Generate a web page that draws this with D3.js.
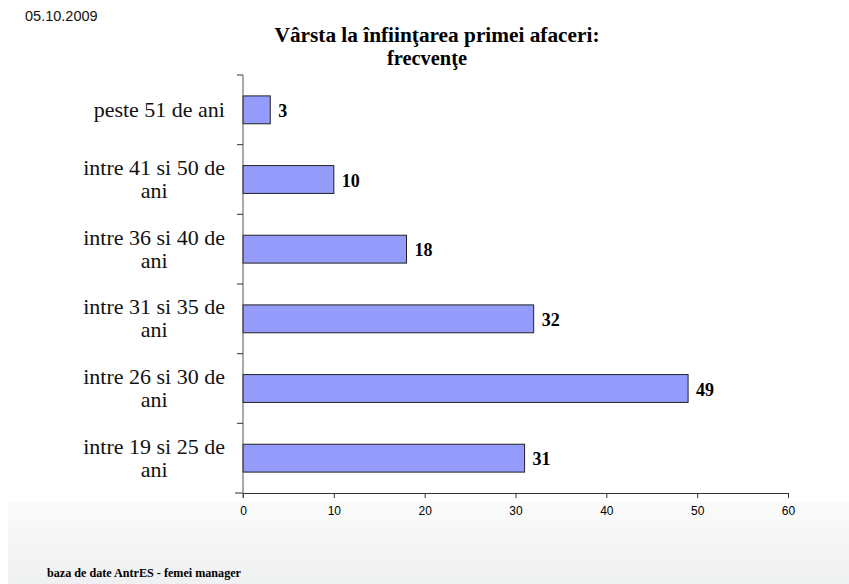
<!DOCTYPE html>
<html>
<head>
<meta charset="utf-8">
<script src="https://cdn.jsdelivr.net/npm/d3@7"></script>
<style>
	body { margin: 0; background: #fff; }
	svg { display: block; }
</style>
</head>
<body>
<svg id="chart"></svg>
<script>
// data, top to bottom as drawn
const categories = [
	['peste 51 de ani'],
	['intre 41 si 50 de', 'ani'],
	['intre 36 si 40 de', 'ani'],
	['intre 31 si 35 de', 'ani'],
	['intre 26 si 30 de', 'ani'],
	['intre 19 si 25 de', 'ani']
];
const values = [3, 10, 18, 32, 49, 31];
const xTicks = [0, 10, 20, 30, 40, 50, 60];
const titleLines = ['Vârsta la înfiinţarea primei afaceri:', 'frecvenţe'];

const W = 849, H = 584;
const m = { left: 243, right: 788, top: 75, bottom: 493 };
const serif = '"Liberation Serif", "DejaVu Serif", serif';
const sans = '"Liberation Sans", Arial, sans-serif';

const svg = d3.select('#chart').attr('width', W).attr('height', H);

// background fade at the bottom
const defs = svg.append('defs');
const grad = defs.append('linearGradient').attr('id', 'bg').attr('x1', 0).attr('y1', 0).attr('x2', 0).attr('y2', 1);
grad.append('stop').attr('offset', '0%').attr('stop-color', '#fbfbfb');
grad.append('stop').attr('offset', '100%').attr('stop-color', '#eff0f1');
svg.append('rect').attr('x', 8).attr('y', 502).attr('width', W - 8).attr('height', H - 502).attr('fill', 'url(#bg)');

const x = d3.scaleLinear().domain([0, 60]).range([m.left, m.right]);
const y = d3.scaleBand().domain(d3.range(categories.length)).range([m.top, m.bottom]).paddingInner(0.6).paddingOuter(0.3);

// bars
svg.selectAll('rect.bar')
	.data(values)
	.enter()
	.append('rect')
	.attr('class', 'bar')
	.attr('x', x(0))
	.attr('y', (d, i) => y(i))
	.attr('width', d => x(d) - x(0))
	.attr('height', y.bandwidth())
	.attr('fill', '#959bfb')
	.attr('stroke', '#222')
	.attr('stroke-width', 1);

// value labels
svg.selectAll('text.val')
	.data(values)
	.enter()
	.append('text')
	.attr('class', 'val')
	.attr('x', d => x(d) + 8)
	.attr('y', (d, i) => y(i) + y.bandwidth() / 2 + 7)
	.attr('font-family', serif)
	.attr('font-weight', 'bold')
	.attr('font-size', '18px')
	.attr('fill', '#000')
	.text(d => d);

// x axis
const xAxis = svg.append('g')
	.attr('transform', `translate(0,${m.bottom})`)
	.call(d3.axisBottom(x).tickValues(xTicks).tickSize(5).tickSizeOuter(0));
xAxis.select('.domain').attr('stroke', '#333');
xAxis.selectAll('line').attr('stroke', '#333');
xAxis.selectAll('text').attr('font-family', sans).attr('font-size', '12px').attr('fill', '#000').attr('dy', '1.2em');
svg.append('line').attr('x1', m.left - 8).attr('x2', m.left).attr('y1', m.bottom).attr('y2', m.bottom).attr('stroke', '#333');

// y axis with ticks at band edges
const step = (m.bottom - m.top) / categories.length;
svg.append('line').attr('x1', m.left).attr('x2', m.left).attr('y1', m.top).attr('y2', m.bottom + 5).attr('stroke', '#555');
svg.selectAll('line.ytick')
	.data(d3.range(categories.length))
	.enter()
	.append('line')
	.attr('class', 'ytick')
	.attr('x1', m.left - 6).attr('x2', m.left)
	.attr('y1', i => m.top + i * step).attr('y2', i => m.top + i * step)
	.attr('stroke', '#333');

// category labels, second line centred under the first
const labelRight = m.left - 18;
const cat = svg.selectAll('g.cat')
	.data(categories)
	.enter()
	.append('g')
	.attr('class', 'cat')
	.attr('transform', (d, i) => `translate(${labelRight},${y(i) + y.bandwidth() / 2 + 7 - (d.length - 1) * 11.5})`);
cat.each(function(lines) {
	const g = d3.select(this);
	const first = g.append('text')
		.attr('text-anchor', 'end')
		.attr('font-family', serif)
		.attr('font-size', '22px')
		.attr('fill', '#111')
		.text(lines[0]);
	const w = first.node().getComputedTextLength();
	lines.slice(1).forEach((t, j) => {
		g.append('text')
			.attr('x', -w / 2)
			.attr('y', (j + 1) * 23)
			.attr('text-anchor', 'middle')
			.attr('font-family', serif)
			.attr('font-size', '22px')
			.attr('fill', '#111')
			.text(t);
	});
});

// title
svg.selectAll('text.title')
	.data(titleLines)
	.enter()
	.append('text')
	.attr('class', 'title')
	.attr('x', (d, i) => i ? 427 : 437)
	.attr('y', (d, i) => 42 + i * 23)
	.attr('text-anchor', 'middle')
	.attr('font-family', serif)
	.attr('font-weight', 'bold')
	.attr('font-size', '20px')
	.attr('textLength', (d, i) => i ? 80 : 325)
	.attr('lengthAdjust', 'spacingAndGlyphs')
	.text(d => d);

// date and footer
svg.append('text').attr('x', 25).attr('y', 21).attr('font-family', sans).attr('font-size', '14.5px').attr('fill', '#111').text('05.10.2009');
svg.append('text').attr('x', 47).attr('y', 577).attr('font-family', serif).attr('font-weight', 'bold').attr('font-size', '12px').attr('textLength', 194).attr('lengthAdjust', 'spacingAndGlyphs').text('baza de date AntrES - femei manager');
</script>
</body>
</html>
